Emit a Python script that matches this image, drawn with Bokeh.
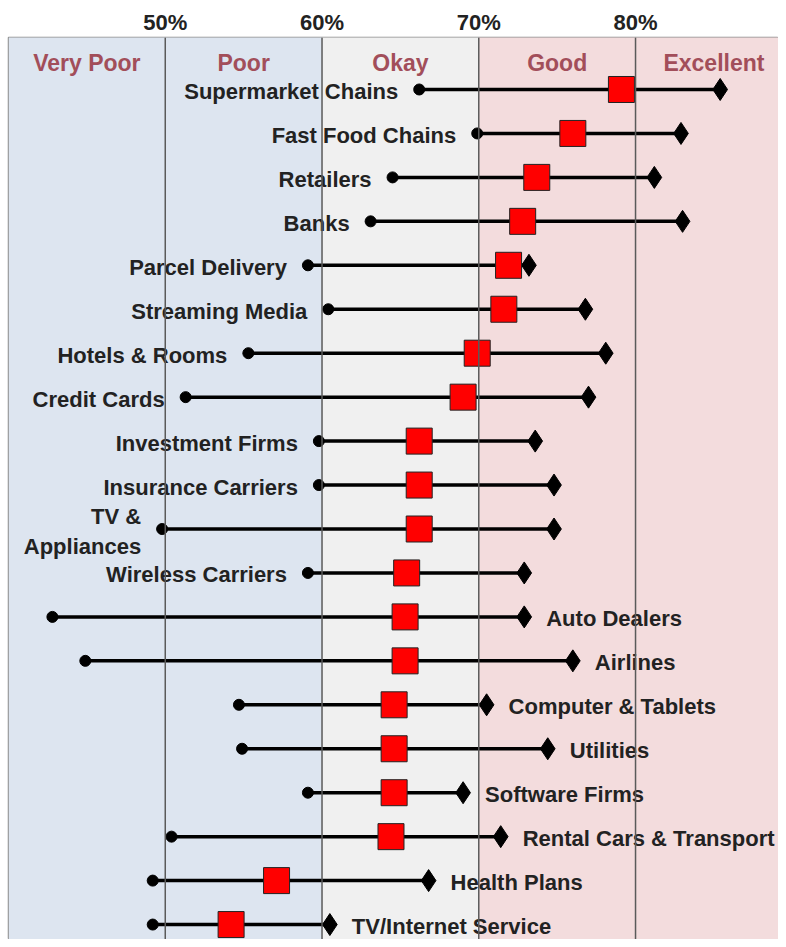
from bokeh.plotting import figure
from bokeh.models import ColumnDataSource, Range1d, FixedTicker, PrintfTickFormatter, Span
from bokeh.core.properties import value
from bokeh.embed import file_html
from bokeh.resources import INLINE

# ---------------- data ----------------
categories = [
    "Supermarket Chains", "Fast Food Chains", "Retailers", "Banks",
    "Parcel Delivery", "Streaming Media", "Hotels & Rooms", "Credit Cards",
    "Investment Firms", "Insurance Carriers", "TV &\nAppliances", "Wireless Carriers",
    "Auto Dealers", "Airlines", "Computer & Tablets", "Utilities",
    "Software Firms", "Rental Cars & Transport", "Health Plans", "TV/Internet Service",
]
low = [66.2, 69.9, 64.5, 63.1, 59.1, 60.4, 55.3, 51.3, 59.8, 59.8, 49.8, 59.1,
       42.8, 44.9, 54.7, 54.9, 59.1, 50.4, 49.2, 49.2]
score = [79.1, 76.0, 73.7, 72.8, 71.9, 71.6, 69.9, 69.0, 66.2, 66.2, 66.2, 65.4,
         65.3, 65.3, 64.6, 64.6, 64.6, 64.4, 57.1, 54.2]
high = [85.4, 82.9, 81.2, 83.0, 73.2, 76.8, 78.1, 77.0, 73.6, 74.8, 74.8, 72.9,
        72.9, 76.0, 70.5, 74.4, 69.0, 71.4, 66.8, 60.5]
label_side = ["left"] * 12 + ["right"] * 8

band_edges = [40, 50, 60, 70, 80, 90]
band_names = ["Very Poor", "Poor", "Okay", "Good", "Excellent"]
band_colors = ["#dde5f0", "#dde5f0", "#f0f0f0", "#f3dcdd", "#f3dcdd"]
tick_values = [50, 60, 70, 80]

# ---------------- layout ----------------
n = len(categories)
rows = [n - 1 - i for i in range(n)]
y_top = n - 1 + 1.183

FONT = "Liberation Sans"

p = figure(width=778, height=939, output_backend="svg", toolbar_location=None,
           x_range=Range1d(40, 89.12), y_range=Range1d(-0.34, y_top),
           x_axis_location="above", min_border_left=8, min_border_right=0,
           min_border_bottom=0, min_border_top=37)
p.background_fill_color = "white"
p.border_fill_color = "white"
p.outline_line_color = "#8a8a8a"
p.outline_line_width = 1.5
p.xgrid.visible = False
p.ygrid.visible = False
p.yaxis.visible = False

ax = p.xaxis[0]
ax.ticker = FixedTicker(ticks=tick_values)
ax.formatter = PrintfTickFormatter(format="%d%%")
ax.axis_line_color = None
ax.major_tick_line_color = None
ax.minor_tick_line_color = None
ax.major_tick_out = 0
ax.major_label_standoff = 3
ax.major_label_text_font = FONT
ax.major_label_text_font_style = "bold"
ax.major_label_text_font_size = "22px"
ax.major_label_text_color = "#222222"

# background bands
band_src = ColumnDataSource(dict(
    left=band_edges[:-1], right=band_edges[1:], color=band_colors,
    mid=[(a + b) / 2 for a, b in zip(band_edges[:-1], band_edges[1:])],
    name=band_names, top=[y_top] * len(band_names),
))
p.quad(left="left", right="right", bottom=-1, top=n + 5, fill_color="color",
       line_color=None, source=band_src)
for v in band_edges[1:-1]:
    p.add_layout(Span(location=v, dimension="height", line_color="#5a5a5a", line_width=1.5))

p.text(x="mid", y="top", text="name", source=band_src, text_align="center",
       text_baseline="middle", y_offset=25, text_font=value(FONT),
       text_font_style="bold", text_font_size="23px", text_color="#a24e5a")

src = ColumnDataSource(dict(cat=categories, y=rows, low=low, score=score, high=high))
p.segment(x0="low", y0="y", x1="high", y1="y", source=src, line_color="black", line_width=3.5)
p.scatter(x="low", y="y", source=src, marker="circle", size=11, fill_color="black", line_color="black")
p.scatter(x="high", y="y", source=src, marker="diamond", size=22, fill_color="black", line_color="black")
p.scatter(x="score", y="y", source=src, marker="square", size=26, fill_color="#ff0000",
          line_color="#222222", line_width=1)

left_idx = [i for i, s in enumerate(label_side) if s == "left"]
right_idx = [i for i, s in enumerate(label_side) if s == "right"]
lsrc = ColumnDataSource(dict(x=[low[i] for i in left_idx], y=[rows[i] for i in left_idx],
                             t=[categories[i] for i in left_idx]))
rsrc = ColumnDataSource(dict(x=[high[i] for i in right_idx], y=[rows[i] for i in right_idx],
                             t=[categories[i] for i in right_idx]))
common = dict(text_baseline="middle", text_font=value(FONT), text_font_style="bold",
              text_font_size="22px", text_color="#222222", y_offset=2)
p.text(x="x", y="y", text="t", source=lsrc, text_align="right", x_offset=-21, **common)
p.text(x="x", y="y", text="t", source=rsrc, text_align="left", x_offset=22, **common)

open("out.html", "w").write(file_html(p, INLINE))
